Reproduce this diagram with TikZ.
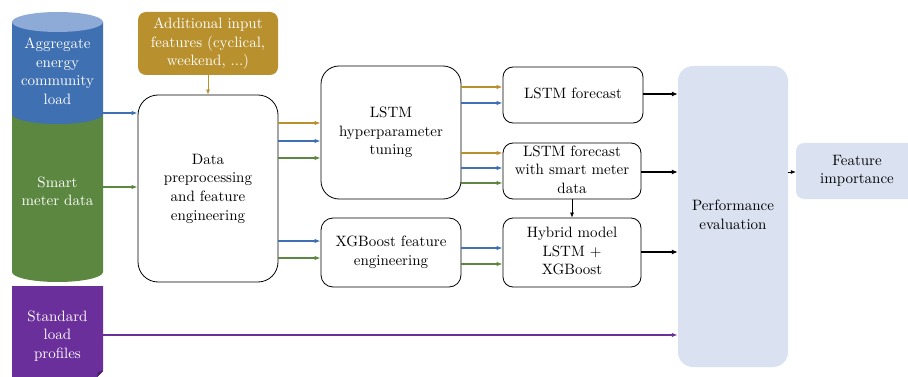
\documentclass[tikz,border=0pt]{standalone}
\usetikzlibrary{arrows.meta}
\usepackage{graphicx}
\definecolor{cblue}{HTML}{3F70B2}
\definecolor{cbluetop}{HTML}{8EAAD6}
\definecolor{cgreen}{HTML}{5B8740}
\definecolor{cgold}{HTML}{B8912E}
\definecolor{cpurple}{HTML}{6A2F9A}
\definecolor{cperf}{HTML}{DAE1F0}
\newcommand{\lbl}[1]{\scalebox{1.5}{\renewcommand{\arraystretch}{1.03}\begin{tabular}{@{}c@{}}#1\end{tabular}}}
\tikzset{
  txt/.style={align=center, inner sep=0pt, font=\fontsize{10}{12}\selectfont},
  wtxt/.style={txt, text=white, minimum width=91pt},
  procbox/.style={txt, draw=black, line width=0.8pt, fill=white},
  conn/.style={line width=1.4pt, -{Latex[length=6pt,width=4.5pt]}},
  thinconn/.style={line width=0.7pt, -{Latex[length=5pt,width=4pt]}},
  thickconn/.style={line width=1.8pt, -{Latex[length=6pt,width=5pt]}},
}
\begin{document}
\begin{tikzpicture}[x=1pt,y=-1pt]
\useasboundingbox (0,0) rectangle (908,377);
\clip (0,0) rectangle (908,377);
% cylinder
\fill[cgreen] (12,114) -- (12,272) arc[start angle=180,end angle=360,x radius=45.5pt,y radius=10pt] -- (103,114) -- cycle;
\fill[cblue] (12,22) -- (12,114) arc[start angle=180,end angle=360,x radius=45.5pt,y radius=10pt] -- (103,22) -- cycle;
\fill[cbluetop] (57.5,22) ellipse[x radius=45.5pt,y radius=10pt];
% document
\fill[cpurple] (12,286) -- (103,286) -- (103,371) -- (97,377) -- (12,377) -- cycle;
\fill[cpurple!65!black] (97,377) -- (103,371) -- (98,372) -- cycle;
\node[wtxt] (agg) at (57.5,73) {\lbl{Aggregate\\energy\\community\\load}};
\node[wtxt] (smart) at (57.5,193) {\lbl{Smart\\meter data}};
\node[wtxt] (slp) at (57.5,336) {\lbl{Standard\\load\\profiles}};
% boxes
\node[txt, fill=cgold, text=white, rounded corners=8pt, minimum width=140pt, minimum height=63pt] (add) at (208,43.5) {\lbl{Additional input\\features (cyclical,\\weekend, ...)}};
\node[procbox, rounded corners=20pt, minimum width=140pt, minimum height=187pt] (data) at (208,188.5) {\lbl{Data\\preprocessing\\and feature\\engineering}};
\node[procbox, rounded corners=18pt, minimum width=140pt, minimum height=133pt] (lstmh) at (391,132.5) {\lbl{LSTM\\hyperparameter\\tuning}};
\node[procbox, rounded corners=12pt, minimum width=140pt, minimum height=69pt] (xgb) at (391,252.5) {\lbl{XGBoost feature\\engineering}};
\node[procbox, rounded corners=10pt, minimum width=140pt, minimum height=56pt] (lf) at (573,95) {\lbl{LSTM forecast}};
\node[procbox, rounded corners=10pt, minimum width=138pt, minimum height=56pt] (ls) at (572,171) {\lbl{LSTM forecast\\with smart meter\\data}};
\node[procbox, rounded corners=10pt, minimum width=138pt, minimum height=69pt] (hyb) at (572,252.5) {\lbl{Hybrid model\\LSTM +\\XGBoost}};
\node[txt, fill=cperf, rounded corners=15pt, minimum width=110pt, minimum height=301pt] (perf) at (733,216.5) {\lbl{Performance\\evaluation}};
\node[txt, fill=cperf, rounded corners=8pt, minimum width=122pt, minimum height=56pt] (feat) at (857,171) {\lbl{Feature\\importance}};
% connectors
\draw[conn, cblue] (agg.east |- 0,113) -- (data.west |- 0,113);
\draw[conn, cgreen] (smart.east |- 0,187) -- (data.west |- 0,187);
\draw[conn, cpurple] (slp.east |- 0,335) -- (perf.west |- 0,335);
\draw[thinconn, cgold] (add.south) -- (data.north);
\draw[conn, cgold] (data.east |- 0,123) -- (lstmh.west |- 0,123);
\draw[conn, cblue] (data.east |- 0,141) -- (lstmh.west |- 0,141);
\draw[conn, cgreen] (data.east |- 0,158) -- (lstmh.west |- 0,158);
\draw[conn, cblue] (data.east |- 0,241) -- (xgb.west |- 0,241);
\draw[conn, cgreen] (data.east |- 0,258) -- (xgb.west |- 0,258);
\draw[conn, cgold] (lstmh.east |- 0,87) -- (lf.west |- 0,87);
\draw[conn, cblue] (lstmh.east |- 0,103) -- (lf.west |- 0,103);
\draw[conn, cgold] (lstmh.east |- 0,153) -- (ls.west |- 0,153);
\draw[conn, cblue] (lstmh.east |- 0,168) -- (ls.west |- 0,168);
\draw[conn, cgreen] (lstmh.east |- 0,183) -- (ls.west |- 0,183);
\draw[conn, cblue] (xgb.east |- 0,248) -- (hyb.west |- 0,248);
\draw[conn, cgreen] (xgb.east |- 0,264) -- (hyb.west |- 0,264);
\draw[thinconn, black] (ls.south) -- (hyb.north);
\draw[thickconn] (lf.east |- 0,94) -- (perf.west |- 0,94);
\draw[thickconn] (ls.east |- 0,172) -- (perf.west |- 0,172);
\draw[thickconn] (hyb.east |- 0,252) -- (perf.west |- 0,252);
\draw[thinconn] (perf.east |- 0,172) -- (feat.west |- 0,172);
\end{tikzpicture}
\end{document}
